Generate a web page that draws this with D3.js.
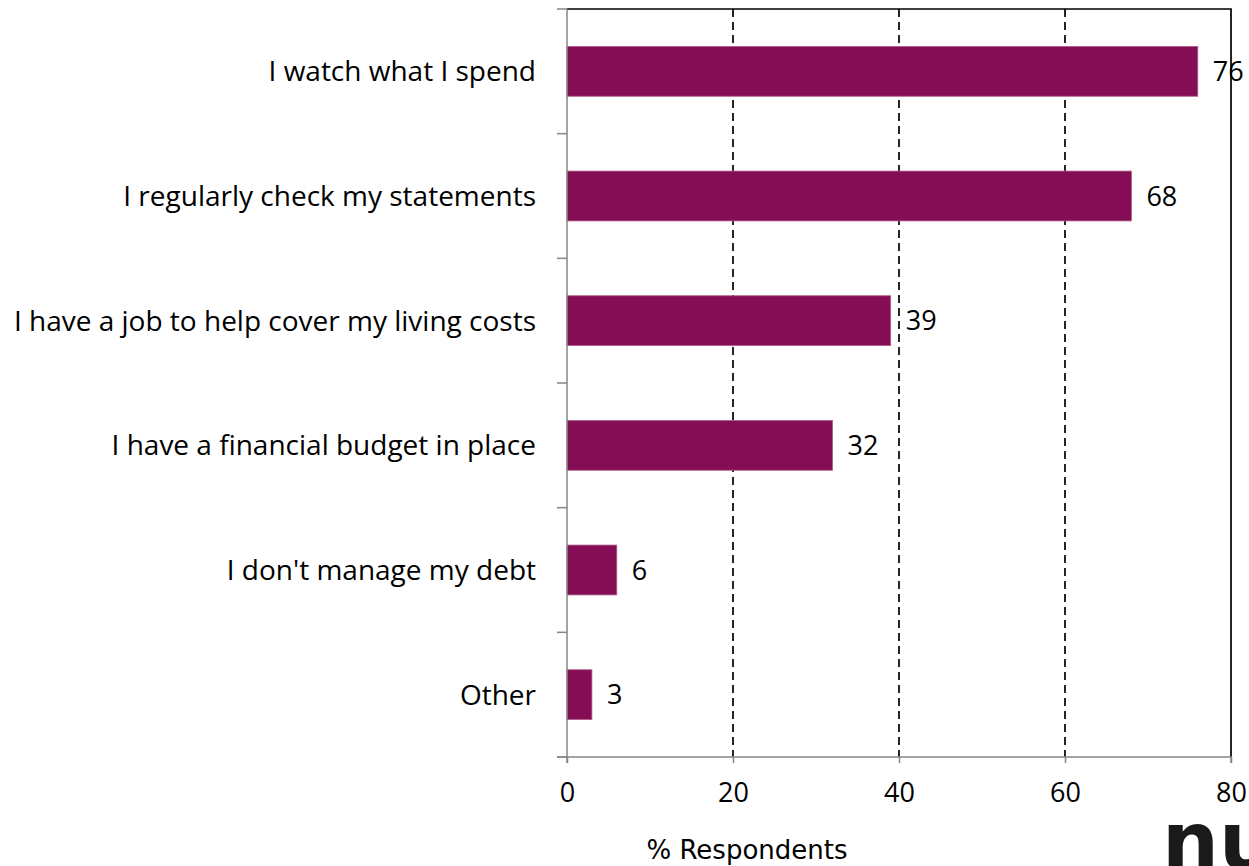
<!DOCTYPE html>
<html>
<head>
<meta charset="utf-8">
<script src="https://cdn.jsdelivr.net/npm/d3@7"></script>
<style>
    html, body { margin: 0; padding: 0; background: #fff; overflow: hidden; }
</style>
</head>
<body>
<script>
// chart data
var categories = [
    "I watch what I spend",
    "I regularly check my statements",
    "I have a job to help cover my living costs",
    "I have a financial budget in place",
    "I don't manage my debt",
    "Other"
];
var values = [76, 68, 39, 32, 6, 3];
var xTicks = [0, 20, 40, 60, 80];
var gridTicks = [20, 40, 60];
var xTitle = "% Respondents";

var width = 1249, height = 866;
var plot = { left: 567, right: 1231, top: 9, bottom: 757 };
var labelFont = "'Open Sans', sans-serif";

var svg = d3.select("body").append("svg")
    .attr("width", width)
    .attr("height", height);

// scales
var xScale = d3.scaleLinear().domain([0, 80]).range([plot.left, plot.right]);
var yScale = d3.scaleBand().domain(categories)
    .range([plot.top, plot.bottom])
    .paddingInner(0.6)
    .paddingOuter(0.3);

var data = categories.map(function(c, i) { return { cat: c, value: values[i] }; });

// dashed grid lines
svg.selectAll(".grid")
    .data(gridTicks)
    .enter().append("line")
    .attr("x1", function(d) { return xScale(d); })
    .attr("x2", function(d) { return xScale(d); })
    .attr("y1", plot.top)
    .attr("y2", plot.bottom)
    .attr("stroke", "#000")
    .attr("stroke-width", 1.7)
    .attr("stroke-dasharray", "8,5");

// top and right border
svg.append("path")
    .attr("d", "M" + plot.left + "," + plot.top + "H" + plot.right + "V" + plot.bottom)
    .attr("fill", "none")
    .attr("stroke", "#000")
    .attr("stroke-width", 1.7);

// bars
svg.selectAll(".bar")
    .data(data)
    .enter().append("rect")
    .attr("x", xScale(0))
    .attr("y", function(d) { return yScale(d.cat); })
    .attr("width", function(d) { return xScale(d.value) - xScale(0); })
    .attr("height", yScale.bandwidth())
    .attr("fill", "#850d55")
    .attr("stroke", "#b0608a")
    .attr("stroke-width", 0.8);

// value labels
svg.selectAll(".val")
    .data(data)
    .enter().append("text")
    .attr("x", function(d) { return xScale(d.value) + 15; })
    .attr("y", function(d) { return yScale(d.cat) + yScale.bandwidth() / 2; })
    .attr("dy", "0.36em")
    .style("font-family", labelFont)
    .style("font-size", "27px")
    .attr("fill", "#000")
    .text(function(d) { return d.value; });

// bottom axis
var xAxis = svg.append("g")
    .attr("transform", "translate(0," + plot.bottom + ")")
    .call(d3.axisBottom(xScale).tickValues(xTicks).tickSize(6).tickPadding(20));
xAxis.select(".domain").attr("stroke", "#868686").attr("stroke-width", 1.5)
    .attr("d", "M" + (plot.left - 10) + ",0H" + plot.right + "V6");
xAxis.selectAll(".tick line").attr("stroke", "#868686").attr("stroke-width", 1.5);
xAxis.selectAll(".tick text")
    .attr("fill", "#000")
    .style("font-family", labelFont)
    .style("font-size", "27px");

// left axis with ticks between categories
var step = yScale.step();
var yBounds = d3.range(categories.length + 1).map(function(i) { return plot.top + i * step; });
svg.append("line")
    .attr("x1", plot.left).attr("x2", plot.left)
    .attr("y1", plot.top).attr("y2", plot.bottom + 6)
    .attr("stroke", "#868686").attr("stroke-width", 1.5);
svg.selectAll(".ytick")
    .data(yBounds)
    .enter().append("line")
    .attr("x1", plot.left - 10).attr("x2", plot.left)
    .attr("y1", function(d) { return d; })
    .attr("y2", function(d) { return d; })
    .attr("stroke", "#868686").attr("stroke-width", 1.5);

// category labels
svg.selectAll(".cat")
    .data(categories)
    .enter().append("text")
    .attr("x", 536)
    .attr("y", function(d) { return yScale(d) + yScale.bandwidth() / 2; })
    .attr("dy", "0.36em")
    .attr("text-anchor", "end")
    .style("font-family", labelFont)
    .style("font-size", "28px")
    .attr("fill", "#000")
    .text(function(d) { return d; });

// axis title
svg.append("text")
    .attr("x", 747)
    .attr("y", 859)
    .attr("text-anchor", "middle")
    .style("font-family", "'DejaVu Sans', Verdana, sans-serif")
    .style("font-size", "26px")
    .attr("fill", "#000")
    .text(xTitle);

// partial logo in the corner, cut by the page edge like the original
svg.append("text")
    .attr("x", 1162)
    .attr("y", 869)
    .style("font-family", "'DejaVu Sans', sans-serif")
    .style("font-weight", "bold")
    .style("font-size", "80px")
    .attr("fill", "#1a1a1a")
    .text("nu");
</script>
</body>
</html>
